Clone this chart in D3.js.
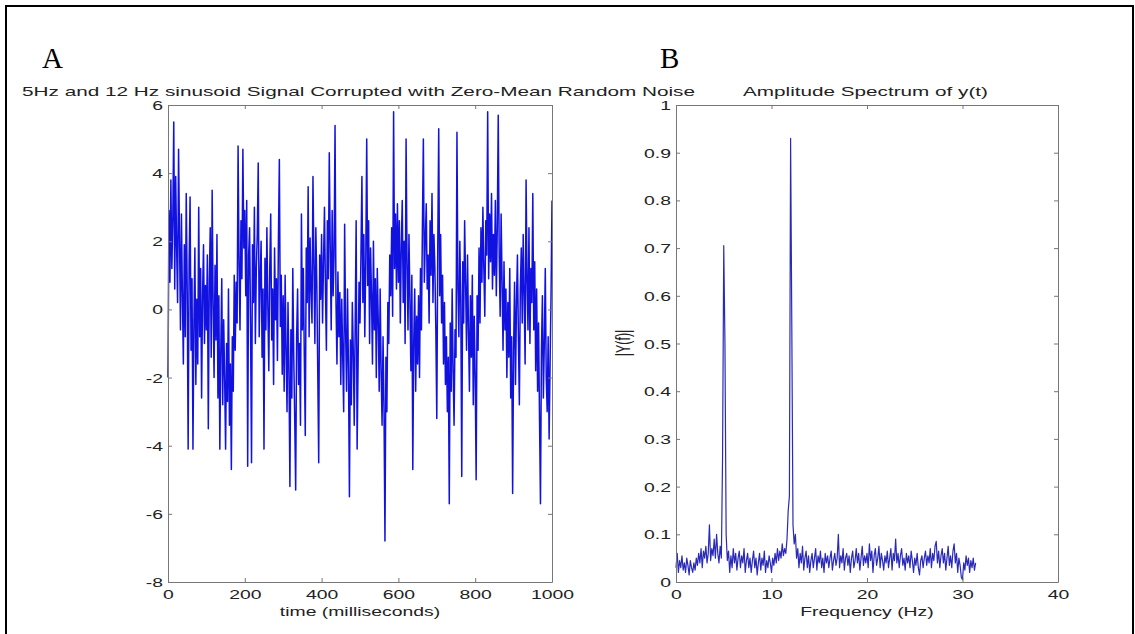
<!DOCTYPE html>
<html>
<head>
<meta charset="utf-8">
<script src="https://cdn.jsdelivr.net/npm/d3@7"></script>
<style>
  body { margin: 0; background: #fff; }
  svg { display: block; }
</style>
</head>
<body>
<svg id="chart" width="1135" height="634"></svg>
<script>
// noisy signal, one value every 2.5 ms
const sampleStepMs = 2.5;
const signal = [
  -2.0, 2.9, 0.8, 3.8, 1.2, 2.6, 5.5, 0.6, 3.9, 1.8, 0.2, 4.7, 2.1, -0.6, 2.8, 0.4, -1.6, 1.9, -0.8, 3.4,
  0.6, -4.1, 1.4, 3.3, -1.2, 0.9, -4.1, -0.4, 1.8, -2.2, 0.3, -1.6, 3.0, -0.8, 1.2, -2.6, 0.4, 1.9, -1.0, 0.7,
  -0.6, 1.6, -3.5, 0.8, 2.4, -1.4, 3.5, 0.2, -2.0, 1.3, -0.9, 2.2, -2.6, 0.4, -4.1, -1.2, 0.9, -2.8, -0.3, -2.0,
  -4.1, -1.0, -2.7, 0.6, -3.4, -1.6, -4.7, -0.8, -2.4, 1.0, -1.2, 0.8, -0.4, 4.8, 1.4, -0.6, 2.6, 0.9, 4.7, 1.8,
  2.9, 0.4, 3.2, -4.6, 1.6, 2.4, -0.5, -4.5, 1.9, 0.2, 3.0, -1.0, 1.2, 2.2, 4.3, -0.8, 0.9, 2.0, -1.4, 0.6,
  -4.1, 1.5, -0.6, 2.4, 0.1, -1.8, 1.2, 2.8, -0.9, 0.6, -2.2, 1.8, -0.3, 0.9, -1.5, 2.0, 4.4, -0.5, 1.0, -1.9,
  0.4, -2.4, 1.0, -1.2, -3.0, 0.2, -1.8, -5.2, -0.6, -2.6, 1.2, -1.4, -3.2, -5.3, -0.8, 0.6, -2.2, -1.0, -3.4, 2.8,
  -0.6, 1.2, -1.4, -3.7, 1.8, 0.2, 3.6, -0.8, 2.1, 0.6, -0.4, 3.9, 1.4, -1.0, 2.4, 0.8, -1.8, -4.5, 1.6, 0.3,
  2.2, -0.4, 1.4, 3.0, 0.6, -1.2, 2.6, 0.9, 4.6, 1.8, -0.6, 2.9, 0.4, 1.6, 5.4, 0.2, -1.6, 1.1, -0.8, 0.5,
  -2.2, 0.3, -1.4, -3.0, 2.5, -0.6, -2.4, 0.6, -1.8, -5.5, -0.9, -2.8, 0.2, -1.2, -3.4, -0.4, 2.6, -4.1, -1.6, 0.8,
  -0.4, 1.6, 3.9, 0.2, 2.2, -0.8, 1.4, 5.0, 0.7, 2.6, -1.0, 1.8, 0.4, -1.6, 2.0, -0.6, 0.9, -2.0, 1.2, -0.3,
  -2.4, 0.6, -1.8, -3.4, -0.8, -2.9, -6.8, -1.4, -3.0, 0.2, -1.0, 1.6, 0.4, 2.4, -0.2, 5.8, 1.2, 2.8, 0.6, 3.1,
  0.8, 2.6, -0.4, 1.8, 3.2, 0.2, 2.0, -1.0, 5.0, 1.4, -0.6, 2.2, 0.3, -1.8, 1.0, -4.7, -0.9, 0.6, -2.4, -0.2,
  -1.6, 0.4, -2.0, 1.2, -0.6, 2.4, 5.0, 0.8, 2.0, 3.1, 0.6, 1.6, -0.4, 2.6, 1.0, 3.4, 0.2, 2.2, 1.2, -0.6,
  -3.2, 1.8, 5.3, 0.4, 2.2, -0.4, 1.0, -1.6, 0.2, -2.2, -0.8, -3.0, -1.4, -5.7, -0.4, -2.4, 0.6, -1.8, -3.4, -0.6,
  -1.4, 5.2, 0.6, -0.8, 2.0, 0.2, -4.9, 1.4, -0.4, 2.6, 0.8, -1.2, 1.6, -0.6, -2.4, 0.4, -1.4, 1.0, -2.8, -0.2,
  -2.0, -5.0, 0.4, -1.2, 1.8, -0.4, 2.4, 0.8, 3.0, 1.2, -0.2, 2.6, 1.6, 5.8, 0.9, 2.8, 1.4, 3.4, 0.6, 2.2,
  1.0, 3.2, 0.4, 2.4, 5.7, 1.6, -0.2, 2.8, 0.8, -1.2, 1.4, -0.6, 0.6, -2.0, 0.2, -1.4, 1.2, -2.6, -0.8, -5.4,
  -1.2, 0.8, -2.2, 0.2, 1.6, -0.8, -2.8, 0.6, 1.8, -0.4, 2.2, 0.4, -1.6, 3.8, 0.9, -0.6, 2.4, -1.0, 1.2, 0.2,
  3.4, -0.6, 1.4, -1.8, 0.6, -2.4, -0.4, -3.2, -5.7, -1.2, 0.4, -2.6, -1.0, 1.2, -2.0, -3.0, -0.8, -3.8, -1.6, 0.4,
  3.2
];

// amplitude spectrum, one value every 0.125 Hz
const freqStepHz = 0.125;
const spectrum = [
  0.03, 0.06, 0.02, 0.045, 0.03, 0.055, 0.025, 0.04, 0.02, 0.05, 0.035, 0.015, 0.045, 0.03, 0.02, 0.04,
  0.025, 0.05, 0.035, 0.06, 0.04, 0.07, 0.03, 0.065, 0.05, 0.075, 0.04, 0.06, 0.12, 0.045, 0.07, 0.055,
  0.09, 0.05, 0.1, 0.06, 0.04, 0.075, 0.05, 0.26, 0.705, 0.5, 0.1, 0.045, 0.065, 0.02, 0.055, 0.03,
  0.07, 0.04, 0.06, 0.025, 0.05, 0.065, 0.03, 0.055, 0.04, 0.07, 0.02, 0.045, 0.06, 0.03, 0.05, 0.02,
  0.045, 0.065, 0.03, 0.05, 0.015, 0.04, 0.06, 0.025, 0.05, 0.035, 0.065, 0.02, 0.045, 0.03, 0.055, 0.04,
  0.02, 0.05, 0.035, 0.06, 0.04, 0.07, 0.045, 0.065, 0.05, 0.08, 0.055, 0.07, 0.06, 0.09, 0.15, 0.18,
  0.93, 0.54, 0.12, 0.08, 0.1, 0.05, 0.07, 0.03, 0.06, 0.04, 0.075, 0.025, 0.05, 0.065, 0.03, 0.055,
  0.02, 0.045, 0.06, 0.03, 0.05, 0.07, 0.025, 0.055, 0.04, 0.065, 0.03, 0.05, 0.02, 0.06, 0.04, 0.055,
  0.03, 0.05, 0.065, 0.025, 0.045, 0.06, 0.035, 0.05, 0.1, 0.03, 0.055, 0.04, 0.07, 0.025, 0.05, 0.06,
  0.035, 0.055, 0.02, 0.05, 0.065, 0.03, 0.045, 0.07, 0.04, 0.06, 0.025, 0.05, 0.075, 0.035, 0.055, 0.04,
  0.06, 0.03, 0.08, 0.045, 0.065, 0.02, 0.055, 0.07, 0.035, 0.05, 0.075, 0.03, 0.06, 0.045, 0.025, 0.055,
  0.04, 0.065, 0.03, 0.05, 0.07, 0.025, 0.06, 0.045, 0.09, 0.04, 0.06, 0.03, 0.055, 0.07, 0.035, 0.05,
  0.025, 0.06, 0.04, 0.055, 0.03, 0.065, 0.045, 0.02, 0.05, 0.035, 0.06, 0.03, 0.015, 0.045, 0.055, 0.03,
  0.05, 0.065, 0.035, 0.055, 0.04, 0.07, 0.03, 0.06, 0.045, 0.075, 0.085, 0.04, 0.065, 0.03, 0.055, 0.07,
  0.04, 0.06, 0.025, 0.05, 0.075, 0.035, 0.055, 0.03, 0.065, 0.08, 0.04, 0.06, 0.02, 0.05, 0.035, 0.01,
  0.005, 0.04, 0.025, 0.055, 0.035, 0.05, 0.02, 0.045, 0.03, 0.05, 0.025, 0.04
];

const timeTicks = [0, 200, 400, 600, 800, 1000];
const signalTicks = [-8, -6, -4, -2, 0, 2, 4, 6];
const freqTicks = [0, 10, 20, 30, 40];
const ampTicks = [0, 0.1, 0.2, 0.3, 0.4, 0.5, 0.6, 0.7, 0.8, 0.9, 1];

// the figure was stretched sideways, so its text is too
const SX = 1.55;
const axisColor = "#777";
const textColor = "#222";
const font = "'Liberation Sans', Arial, sans-serif";

const svg = d3.select("#chart");

// outer frame
svg.append("path")
    .attr("d", "M6,640 V6 H1133 V640")
    .attr("fill", "none")
    .attr("stroke", "#000")
    .attr("stroke-width", 2);

svg.append("text").attr("x", 42).attr("y", 68)
    .style("font-family", "'Liberation Serif', 'Times New Roman', serif")
    .style("font-size", "29px").text("A");
svg.append("text").attr("x", 660).attr("y", 68)
    .style("font-family", "'Liberation Serif', 'Times New Roman', serif")
    .style("font-size", "29px").text("B");

function stretchedText(x, y, str, width, extra) {
    const t = svg.append("text")
        .attr("transform", `translate(${x},${y}) scale(${SX},1)${extra || ""}`)
        .attr("text-anchor", "middle")
        .style("font-family", font)
        .style("font-size", "12.5px")
        .attr("fill", textColor)
        .text(str);
    if (width) t.attr("textLength", width / SX).attr("lengthAdjust", "spacingAndGlyphs");
    return t;
}

function panel(o) {
    const x = d3.scaleLinear().domain(o.xDomain).range([o.left, o.right]);
    const y = d3.scaleLinear().domain(o.yDomain).range([582, 105]);
    const fmt = d => String(+d.toFixed(1));

    svg.append("path")
        .datum(o.values)
        .attr("fill", "none")
        .attr("stroke", o.color)
        .attr("stroke-width", o.width)
        .attr("stroke-linejoin", "round")
        .attr("d", d3.line().x((d, i) => x(i * o.step)).y(d => y(d)));

    const axes = [
        { a: d3.axisBottom(x).tickValues(o.xTicks).tickFormat(fmt).tickPadding(8), t: `translate(0,${y.range()[0]})` },
        { a: d3.axisTop(x).tickValues(o.xTicks).tickFormat(""), t: `translate(0,${y.range()[1]})` },
        { a: d3.axisLeft(y).tickValues(o.yTicks).tickFormat(fmt).tickPadding(5), t: `translate(${o.left},0)`, left: true },
        { a: d3.axisRight(y).tickValues(o.yTicks).tickFormat(""), t: `translate(${o.right},0)` }
    ];
    axes.forEach(ax => {
        const g = svg.append("g")
            .attr("transform", ax.t)
            .call(ax.a.tickSizeInner(-4).tickSizeOuter(0));
        g.select(".domain").attr("stroke", axisColor);
        g.selectAll(".tick line").attr("stroke", axisColor);
        g.selectAll(".tick text")
            .attr("fill", textColor)
            .style("font-family", font)
            .style("font-size", "12.5px")
            .attr("transform", `scale(${SX},1)`);
        if (ax.left) g.selectAll(".tick text").attr("x", -5 / SX).attr("dy", "0.36em");
    });

    stretchedText((o.titleX0 + o.titleX1) / 2, 96, o.title, o.titleX1 - o.titleX0);
    stretchedText((o.left + o.right) / 2, 616, o.xLabel);
    if (o.yLabel) stretchedText(630, 343, o.yLabel, null, " rotate(-90)");
}

panel({
    left: 168, right: 552,
    xDomain: [0, 1000], yDomain: [-8, 6],
    xTicks: timeTicks, yTicks: signalTicks,
    values: signal, step: sampleStepMs, color: "#1212e0", width: 1.5,
    title: "5Hz and 12 Hz sinusoid Signal Corrupted with Zero-Mean Random Noise",
    titleX0: 22, titleX1: 695,
    xLabel: "time (milliseconds)"
});

panel({
    left: 676, right: 1058,
    xDomain: [0, 40], yDomain: [0, 1],
    xTicks: freqTicks, yTicks: ampTicks,
    values: spectrum, step: freqStepHz, color: "#2a2ab8", width: 1.2,
    title: "Amplitude Spectrum of y(t)",
    titleX0: 743, titleX1: 988,
    xLabel: "Frequency (Hz)", yLabel: "|Y(f)|"
});
</script>
</body>
</html>
